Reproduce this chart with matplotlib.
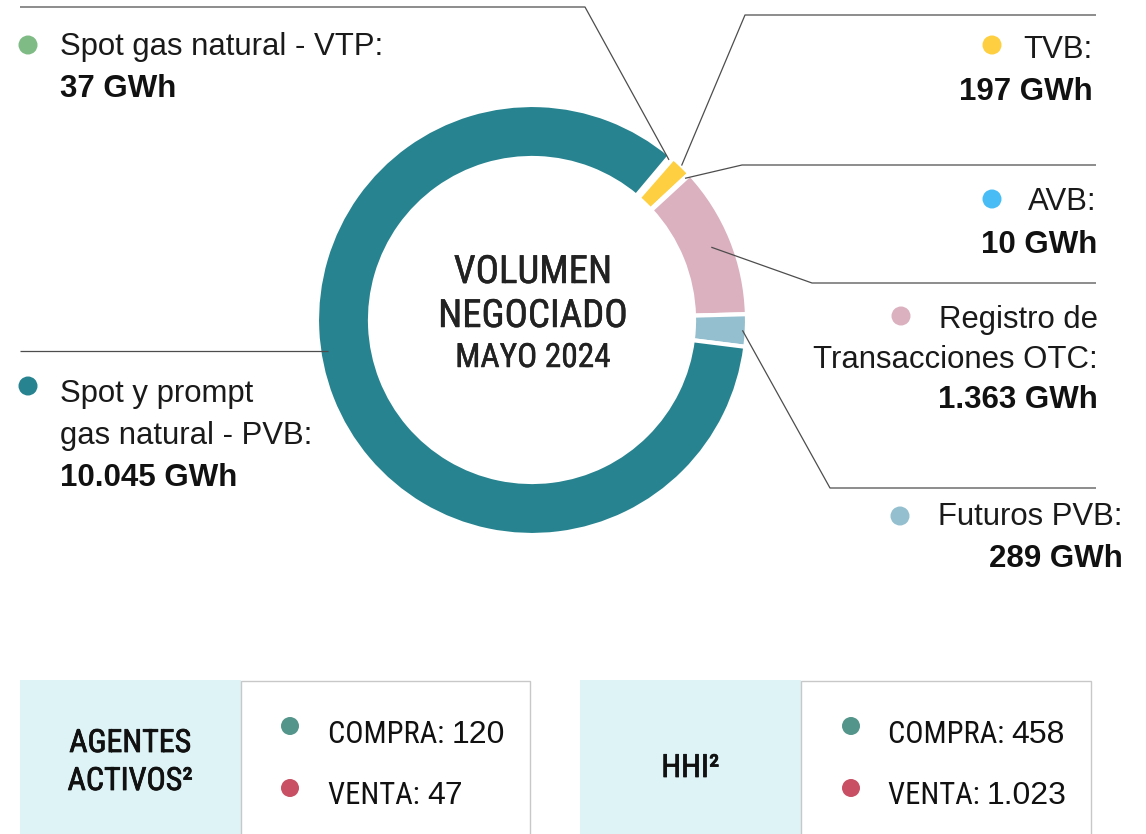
import numpy as np
import matplotlib.pyplot as plt
import matplotlib.patheffects as pe
from matplotlib import font_manager
from matplotlib.patches import Rectangle, Circle

# ---- data ----
segments = ["Spot gas natural - VTP", "TVB", "AVB",
            "Registro de Transacciones OTC", "Futuros PVB",
            "Spot y prompt gas natural - PVB"]
name_lines = [["Spot gas natural - VTP:"], ["TVB:"], ["AVB:"],
              ["Registro de", "Transacciones OTC:"], ["Futuros PVB:"],
              ["Spot y prompt", "gas natural - PVB:"]]
volumes_gwh = [37, 197, 10, 1363, 289, 10045]
seg_colors = ["#7fbb85", "#fecf40", "#48bdf5", "#dbb0bf", "#93bfcf", "#26838f"]

table_keys = ["COMPRA", "VENTA"]
agentes_activos = [120, 47]
hhi = [458, 1023]
key_colors = ["#53958a", "#c84f64"]


def fmt(v):
    return f"{v:,}".replace(",", ".")


# pick a condensed face if one is installed
fonts = font_manager.fontManager.ttflist
names = {f.name for f in fonts}
NARROW = dict(family="Liberation Sans")
for cand in ["Liberation Sans Narrow", "Roboto Condensed", "Open Sans Condensed"]:
    if cand in names:
        NARROW = dict(family=cand)
        break
SANS = "Liberation Sans"
TXT = "#1a1a1a"
LINE = "#4d4d4d"


def thicker(c, w):
    # a touch of stroke to get a medium weight
    return [pe.withStroke(linewidth=w, foreground=c)]


W, H = 1146, 834
fig = plt.figure(figsize=(W / 100, H / 100), dpi=100)
fig.patch.set_facecolor("white")
ax = fig.add_axes([0, 0, 1, 1])

# donut (pixel coordinates, y pointing down)
cx, cy, R = 532, 320, 215
wedges, _ = ax.pie(volumes_gwh, colors=seg_colors, center=(cx, cy), radius=R,
                   startangle=-50, counterclock=True,
                   wedgeprops=dict(width=53, edgecolor="white", linewidth=3))
ax.set_xlim(0, W)
ax.set_ylim(H, 0)
ax.set_aspect("equal")
ax.axis("off")

# label layout: text x, alignment, first baseline, line gap, dot centre,
# leader anchor fraction of R, angle shift, elbow, end x
layout = [
    dict(x=60, ha="left", y=55, gap=42, dot=(28, 45),
         frac=0.98, shift=0, elbow=(585, 7), end=20),
    dict(x=1093, ha="right", y=58, gap=42, dot=(992, 45),
         frac=1.0, shift=0, elbow=(745, 15), end=1096),
    dict(x=1097, ha="right", y=210, gap=43, dot=(992, 199),
         frac=0.97, shift=0, elbow=(742, 165), end=1096),
    dict(x=1098, ha="right", y=328, gap=40, dot=(901, 316),
         frac=0.90, shift=0, elbow=(812, 283), end=1096),
    dict(x=1123, ha="right", y=525, gap=42, dot=(900, 516),
         frac=0.98, shift=0, elbow=(830, 488), end=1096),
    dict(x=60, ha="left", y=402, gap=42, dot=(28, 386),
         frac=0.96, shift=12.8, elbow=None, end=20),
]

for w, lines, vol, col, lay in zip(wedges, name_lines, volumes_gwh, seg_colors, layout):
    mid = np.deg2rad((w.theta1 + w.theta2) / 2 + lay["shift"])
    ax0 = cx + lay["frac"] * R * np.cos(mid)
    ay0 = cy + lay["frac"] * R * np.sin(mid)
    if lay["elbow"] is None:
        xs, ys = [ax0, lay["end"]], [ay0, ay0]
    else:
        ex, ey = lay["elbow"]
        xs, ys = [ax0, ex, lay["end"]], [ay0, ey, ey]
    ax.plot(xs, ys, color=LINE, lw=0.9, solid_capstyle="butt", zorder=3)

    ax.add_patch(Circle(lay["dot"], 9.5, color=col, lw=0, zorder=4))
    y = lay["y"]
    for ln in lines:
        ax.text(lay["x"], y, ln, ha=lay["ha"], va="baseline",
                fontsize=22.4, family=SANS, color=TXT)
        y += lay["gap"]
    ax.text(lay["x"], y, fmt(vol) + " GWh", ha=lay["ha"], va="baseline",
            fontsize=22.5, family=SANS, fontweight="bold", color="#111111")

# centre title
for txt, yb, fs in [("VOLUMEN", 283, 28), ("NEGOCIADO", 327, 28), ("MAYO 2024", 367, 24)]:
    ax.text(cx + 1, yb, txt, ha="center", va="baseline", fontsize=fs,
            color="#222222", path_effects=thicker("#222222", 0.35), **NARROW)

# bottom boxes
boxes = [
    dict(x0=20, split=241, x1=530, title=["AGENTES", "ACTIVOS²"], tb=[752, 790],
         vals=agentes_activos, dotx=290, tx=328),
    dict(x0=580, split=801, x1=1091, title=["HHI²"], tb=[777],
         vals=hhi, dotx=851, tx=888),
]
fig.canvas.draw()
renderer = fig.canvas.get_renderer()
inv = ax.transData.inverted()
for b in boxes:
    ax.add_patch(Rectangle((b["x0"], 680), b["split"] - b["x0"], 200,
                           facecolor="#def3f6", lw=0, zorder=1))
    ax.add_patch(Rectangle((b["split"], 681), b["x1"] - b["split"], 200,
                           facecolor="white", edgecolor="#c8c8c8", lw=1, zorder=1))
    mx = (b["x0"] + b["split"]) / 2
    for t, yb in zip(b["title"], b["tb"]):
        ax.text(mx, yb, t, ha="center", va="baseline", fontsize=23,
                color="#111111", zorder=2, path_effects=thicker("#111111", 0.55), **NARROW)
    for key, v, kc, yb, dy in zip(table_keys, b["vals"], key_colors, [743, 804], [726, 788]):
        ax.add_patch(Circle((b["dotx"], dy), 9, color=kc, lw=0, zorder=2))
        t1 = ax.text(b["tx"], yb, key + ": ", ha="left", va="baseline",
                     fontsize=22, color="#111111", zorder=2, **NARROW)
        bb = t1.get_window_extent(renderer)
        xr = inv.transform((bb.x1, bb.y0))[0]
        ax.text(xr, yb, fmt(v), ha="left", va="baseline", fontsize=23,
                family=SANS, color="#111111", zorder=2)

fig.savefig("out.png", dpi=100, facecolor="white")
